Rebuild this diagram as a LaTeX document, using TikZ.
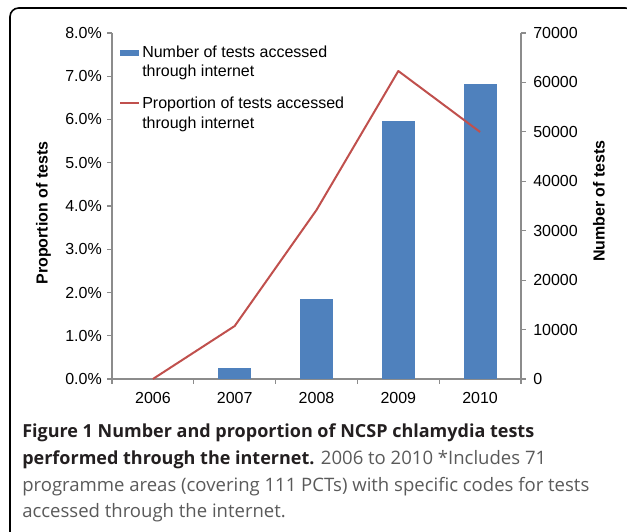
\documentclass[tikz,border=0pt]{standalone}
\usepackage{fontspec}
\setmainfont{Liberation Sans}
\newfontfamily\capfont{Open Sans}
\definecolor{barblue}{HTML}{4F81BD}
\definecolor{linered}{HTML}{C0504D}
\definecolor{axisgray}{HTML}{8C8C8C}
\definecolor{captext}{HTML}{5A5A5A}
\definecolor{capbold}{HTML}{231F20}

\begin{document}
\begin{tikzpicture}[x=0.75pt,y=-0.75pt,
  axisline/.style={draw=axisgray, line width=0.8pt},
  bar/.style={fill=barblue, draw=none},
  series/.style={draw=linered, line width=1.5pt, line join=round},
  ticklbl/.style={font=\fontsize{12}{14}\selectfont, inner sep=0pt},
  axtitle/.style={font=\fontsize{12}{14}\selectfont\bfseries, inner sep=0pt, rotate=90},
  legtext/.style={font=\fontsize{12}{14}\selectfont, inner sep=0pt, anchor=base west},
  capline/.style={font=\capfont\fontsize{13.9}{16}\selectfont, inner sep=0pt, anchor=base west, text=captext},
  capbf/.style={font=\capfont\fontsize{13.5}{16}\selectfont\bfseries},
  frame/.style={draw=black, line width=1.2pt, rounded corners=6.5pt}
]
\useasboundingbox (0,0) rectangle (627,531);

% outer frame of the figure panel
\draw[frame] (10,8) rectangle (634,545);

% plot area corners
\coordinate (o) at (112,379);
\coordinate (ytop) at (112,33);
\coordinate (r0) at (521,379);
\coordinate (rtop) at (521,33);

% left axis with ticks and labels
\draw[axisline] (ytop) -- (o);
\foreach \i in {0,...,8} {
  \pgfmathsetmacro{\yy}{379-43.25*\i}
  \draw[axisline] (107,\yy) -- (112,\yy);
  \node[ticklbl, anchor=base east] (yl\i) at (102,\yy+5.5) {\i.0\%};
}

% right axis with ticks and labels
\draw[axisline] (rtop) -- (r0);
\foreach \v [count=\i from 0] in {0,10000,20000,30000,40000,50000,60000,70000} {
  \pgfmathsetmacro{\yy}{379-49.43*\i}
  \draw[axisline] (521,\yy) -- (526,\yy);
  \node[ticklbl, anchor=base west] (rl\i) at (533,\yy+5.5) {\v};
}

% category axis
\draw[axisline] (o) -- (r0);
\foreach \k in {0,...,5} {
  \draw[axisline] (112+81.8*\k,379) -- (112+81.8*\k,384);
}
\foreach \yr [count=\k from 0] in {2006,2007,2008,2009,2010} {
  \node[ticklbl, anchor=base] (x\k) at (152.9+81.8*\k,403) {\yr};
}

% bars: number of tests
\fill[bar] (218.2,379) rectangle (251.2,368);
\fill[bar] (300.0,379) rectangle (333.0,299);
\fill[bar] (381.8,379) rectangle (414.8,121);
\fill[bar] (463.6,379) rectangle (496.6,84);

% line: proportion of tests
\coordinate (p0) at (152.9,379);
\coordinate (p1) at (234.7,326);
\coordinate (p2) at (316.5,210);
\coordinate (p3) at (398.3,71);
\coordinate (p4) at (480.1,132);
\draw[series] (p0) -- (p1) -- (p2) -- (p3) -- (p4);

% legend
\fill[bar] (120,50) rectangle (139,56);
\node[legtext] (lg1a) at (142,57.5) {Number of tests accessed};
\node[legtext] (lg1b) at (142,76.5) {through internet};
\coordinate (lgl0) at (120,103);
\coordinate (lgl1) at (139,103);
\draw[series] (lgl0) -- (lgl1);
\node[legtext] (lg2a) at (142,109) {Proportion of tests accessed};
\node[legtext] (lg2b) at (142,128) {through internet};

% axis titles
\node[axtitle] (ytitle) at (43.5,213) {Proportion of tests};
\node[axtitle] (rtitle) at (599,201) {Number of tests};

% caption
\node[capline, capbf, text=capbold] (c1) at (22,437) {Figure 1 Number and proportion of NCSP chlamydia tests};
\node[capline] (c2) at (22,464) {{\capfont\fontsize{13.5}{16}\selectfont\bfseries\color{capbold}performed through the internet.} 2006 to 2010 *Includes 71};
\node[capline] (c3) at (22,491) {programme areas (covering 111 PCTs) with specific codes for tests};
\node[capline] (c4) at (22,517) {accessed through the internet.};
\end{tikzpicture}
\end{document}
